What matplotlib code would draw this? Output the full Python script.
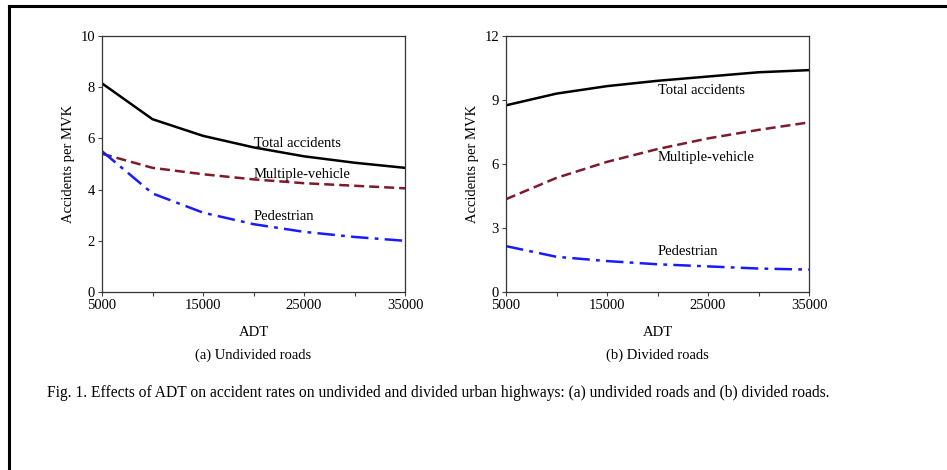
import matplotlib
matplotlib.use("Agg")
import matplotlib.pyplot as plt
from matplotlib.lines import Line2D
from matplotlib.ticker import MultipleLocator

plt.rcParams['font.family'] = ['Liberation Serif', 'DejaVu Serif']

adt = [5000, 10000, 15000, 20000, 25000, 30000, 35000]

undiv_total = [8.15, 6.75, 6.1, 5.65, 5.3, 5.05, 4.85]
undiv_multi = [5.4, 4.85, 4.6, 4.4, 4.25, 4.15, 4.05]
undiv_ped = [5.5, 3.85, 3.1, 2.65, 2.35, 2.15, 2.0]

div_total = [8.75, 9.3, 9.65, 9.9, 10.1, 10.3, 10.4]
div_multi = [4.35, 5.35, 6.1, 6.7, 7.2, 7.6, 7.95]
div_ped = [2.15, 1.65, 1.45, 1.3, 1.2, 1.1, 1.05]

xticklabels = ['5000', '15000', '25000', '35000']
series_labels = ['Total accidents', 'Multiple-vehicle', 'Pedestrian']

W, H = 947, 470
fig = plt.figure(figsize=(W / 100, H / 100), dpi=100)

def px(x0, y0, x1, y1):
    return [x0 / W, 1 - y1 / H, (x1 - x0) / W, (y1 - y0) / H]

ax1 = fig.add_axes(px(102, 36, 405, 292))
ax2 = fig.add_axes(px(506, 36, 809, 292))

fs = 10.5
panels = [
    (ax1, undiv_total, undiv_multi, undiv_ped, 10, 2,
     [(20000, 5.8), (20000, 4.6), (20000, 2.93)], '(a) Undivided roads'),
    (ax2, div_total, div_multi, div_ped, 12, 3,
     [(20000, 9.45), (20000, 6.3), (20000, 1.88)], '(b) Divided roads'),
]

for ax, tot, mul, ped, ymax, ystep, lab_pos, sub in panels:
    ax.plot(adt, tot, color='black', lw=1.8, ls='-')
    ax.plot(adt, mul, color='#7d1a2c', lw=1.8, ls=(0, (4, 2)))
    ax.plot(adt, ped, color='#1a1aff', lw=1.8, ls=(0, (7, 2.5, 1.5, 2.5)))
    ax.set_xlim(5000, 35000)
    ax.set_ylim(0, ymax)
    ax.set_xticks([5000, 15000, 25000, 35000])
    ax.set_xticklabels(xticklabels)
    ax.set_xticks([10000, 20000, 30000], minor=True)
    ax.yaxis.set_major_locator(MultipleLocator(ystep))
    ax.tick_params(axis='both', which='both', direction='out', labelsize=fs,
                   width=0.8, color='#444444')
    ax.tick_params(axis='both', which='major', length=3, pad=2)
    ax.tick_params(axis='x', which='minor', length=3)
    for s in ax.spines.values():
        s.set_linewidth(0.9)
        s.set_color('#333333')
    ax.set_ylabel('Accidents per MVK', fontsize=fs, labelpad=4)
    ax.set_xlabel('ADT', fontsize=fs, labelpad=10)
    for name, (xx, yy) in zip(series_labels, lab_pos):
        ax.text(xx, yy, name, fontsize=fs, ha='left', va='center')
    ax.text(0.5, -0.246, sub, transform=ax.transAxes, fontsize=fs,
            ha='center', va='center')

fig.text(47 / W, 1 - 393 / H,
         'Fig. 1. Effects of ADT on accident rates on undivided and divided urban highways: '
         '(a) undivided roads and (b) divided roads.',
         fontsize=11.2, ha='left', va='center')

# page border (left and top)
fig.add_artist(Line2D([9 / W, 9 / W], [0, 1 - 6 / H], transform=fig.transFigure,
                      color='black', lw=2.2))
fig.add_artist(Line2D([9 / W, 1], [1 - 6 / H, 1 - 6 / H], transform=fig.transFigure,
                      color='black', lw=2.2))

fig.savefig('out.png', dpi=100)
